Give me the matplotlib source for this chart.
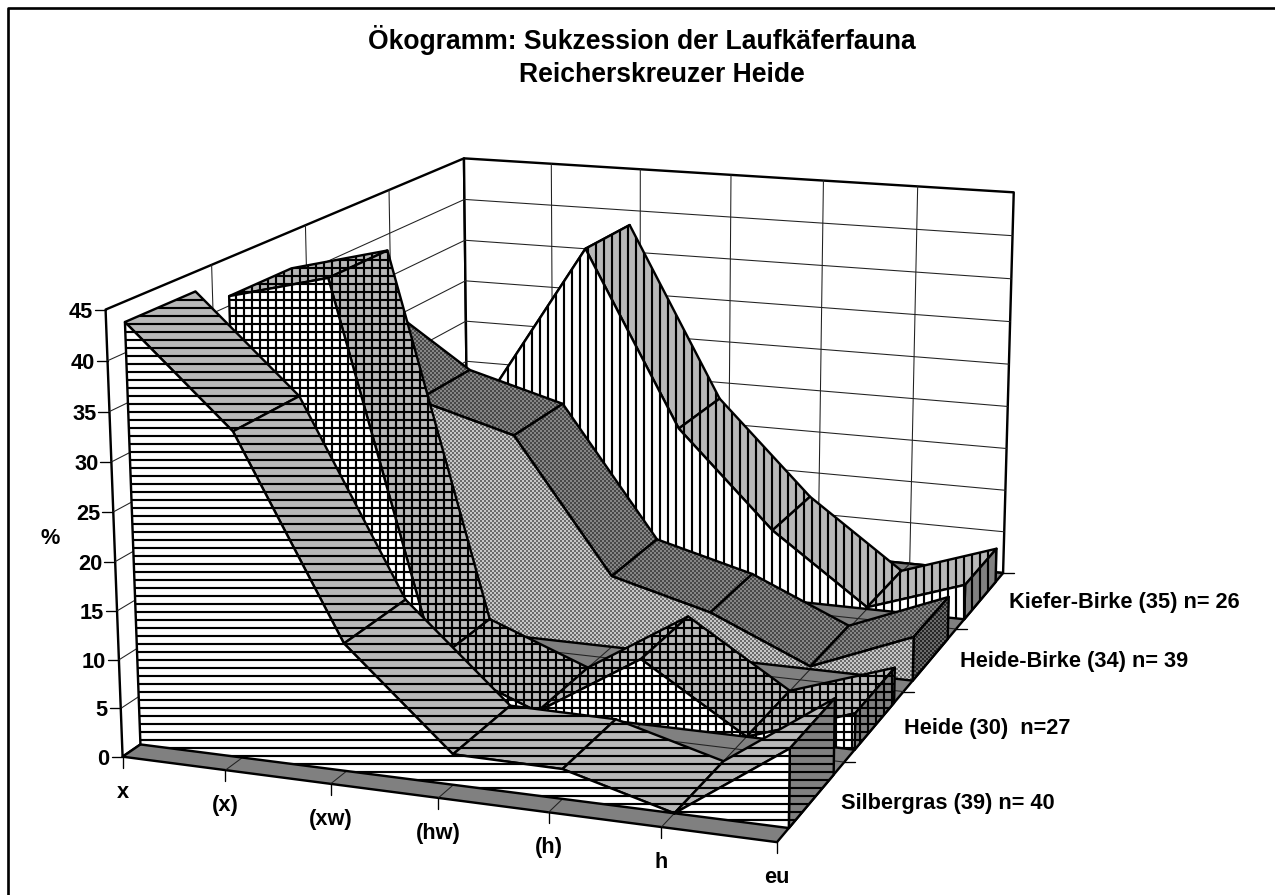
#!/usr/bin/env python3

import numpy as np
import matplotlib
matplotlib.use('Agg')
import matplotlib.pyplot as plt
from matplotlib.patches import Polygon

categories = ['x', '(x)', '(xw)', '(hw)', '(h)', 'h', 'eu']
series_names = ['Silbergras (39) n= 40', 'Heide (30)  n=27',
                'Heide-Birke (34) n= 39', 'Kiefer-Birke (35) n= 26']
silbergras = [43, 33.1, 13, 3.1, 3, 0, 7.8]
heide = [41, 43.7, 4.2, 0, 6.9, 0, 3.8]
heide_birke = [33, 25.7, 22.7, 8, 5.1, 0.3, 4.8]
kiefer_birke = [8, 22, 39, 19, 8.1, 0.2, 4]
z_ticks = list(range(0, 50, 5))

W, H = 1275, 895
GAP = 1 / 6
LABEL_SIZE = 16.3
TITLE_SIZE = 19.9

plt.rcParams['font.family'] = ['Liberation Sans', 'DejaVu Sans']
plt.rcParams['hatch.linewidth'] = 1.6

# view calibration: box corners and ticks (cat, depth, value) -> pixel
view_pts = [
    (0, 0, 0, 123, 755), (1, 0, 0, 225, 770), (2, 0, 0, 331, 783),
    (3, 0, 0, 438, 798), (4, 0, 0, 548, 813), (5, 0, 0, 661, 828),
    (6, 0, 0, 777, 843), (0, 4, 0, 468, 522), (6, 4, 0, 1003, 572),
    (6, 1, 0, 845, 762), (6, 2, 0, 904, 691), (6, 3, 0, 956, 628),
    (0, 0, 45, 105, 310), (0, 1, 45, 212, 266), (0, 2, 45, 306, 225),
    (0, 3, 45, 389, 189), (0, 4, 45, 464, 157), (5, 4, 45, 917, 187),
    (6, 4, 45, 1014, 193),
]

def fit_view(pts):
    A, b = [], []
    for c, d, v, px, py in pts:
        A.append([c, d, v, 1, 0, 0, 0, 0, -px * c, -px * d, -px * v])
        A.append([0, 0, 0, 0, c, d, v, 1, -py * c, -py * d, -py * v])
        b += [px, py]
    p = np.linalg.lstsq(np.array(A, float), np.array(b, float), rcond=None)[0]
    return np.append(p, 1).reshape(3, 4)

P = fit_view(view_pts)

def proj(c, d, v):
    u = P @ np.array([c, d, v, 1.0])
    return u[0] / u[2], u[1] / u[2]

fig = plt.figure(figsize=(W / 96, H / 96))
ax = fig.add_axes([0, 0, 1, 1])
ax.set_axis_off()
order = [10]

def next_z():
    order[0] += 1
    return order[0]

def line(p, q, lw=0.8, color='#222222'):
    ax.plot([p[0], q[0]], [p[1], q[1]], color=color, lw=lw, zorder=next_z(),
            solid_capstyle='round')

def face(pts, color, hatch=None):
    ax.add_patch(Polygon(pts, closed=True, facecolor=color, edgecolor='black',
                         hatch=hatch, lw=1.8, joinstyle='round', zorder=next_z()))

yy, xx = np.indices((H, W))
checker = ((yy // 2 + xx // 2) % 2).astype(float)

def dither(pts, lo, hi):
    z = next_z()
    im = ax.imshow(lo + (hi - lo) * checker, cmap='gray', vmin=0, vmax=1,
                   extent=(0, W, H, 0), interpolation='nearest',
                   aspect='auto', zorder=z)
    patch = Polygon(pts, closed=True, facecolor='none', edgecolor='black',
                    lw=1.8, joinstyle='round', zorder=z + 0.5)
    ax.add_patch(patch)
    im.set_clip_path(patch)

# walls
face([proj(0, 0, 0), proj(0, 0, 45), proj(0, 4, 45), proj(0, 4, 0)], 'white')
face([proj(0, 4, 0), proj(0, 4, 45), proj(6, 4, 45), proj(6, 4, 0)], 'white')
for v in z_ticks[1:-1]:
    line(proj(0, 0, v), proj(0, 4, v))
    line(proj(0, 4, v), proj(6, 4, v))
for d in range(1, 4):
    line(proj(0, d, 0), proj(0, d, 45))
for c in range(1, 6):
    line(proj(c, 4, 0), proj(c, 4, 45))

# floor
face([proj(0, 0, 0), proj(6, 0, 0), proj(6, 4, 0), proj(0, 4, 0)], '#808080')
for c in range(1, 6):
    line(proj(c, 0, 0), proj(c, 4, 0))
for d in range(1, 4):
    line(proj(0, d, 0), proj(6, d, 0))

# areas, back to front
styles = [
    ('--', 'white', '#b8b8b8', '#808080'),
    ('++', 'white', '#b8b8b8', '#808080'),
    (None, (0.42, 0.78), (0.28, 0.52), (0.15, 0.42)),
    ('||', 'white', '#b8b8b8', '#808080'),
]
all_series = [silbergras, heide, heide_birke, kiefer_birke]

def draw(pts, col, hatch):
    if hatch is None:
        dither(pts, col[0], col[1])
    else:
        face(pts, col, hatch)

for i in range(3, -1, -1):
    vals = all_series[i]
    hatch, front_c, top_c, side_c = styles[i]
    d0, d1 = i + GAP, i + 1 - GAP
    for c in range(6):
        draw([proj(c, d0, vals[c]), proj(c + 1, d0, vals[c + 1]),
              proj(c + 1, d1, vals[c + 1]), proj(c, d1, vals[c])], top_c, hatch)
    draw([proj(6, d0, vals[6]), proj(6, d1, vals[6]),
          proj(6, d1, 0), proj(6, d0, 0)], side_c, hatch)
    pts = [proj(c, d0, vals[c]) for c in range(7)]
    draw(pts + [proj(6, d0, 0), proj(0, d0, 0)], front_c, hatch)

# ticks and labels
for v in z_ticks:
    x, y = proj(0, 0, v)
    line((x - 11, y), (x, y), lw=1.0, color='black')
    ax.text(x - 13, y, str(v), ha='right', va='center_baseline',
            fontsize=LABEL_SIZE, fontweight='bold')
for c, name in enumerate(categories):
    x, y = proj(c, 0, 0)
    line((x, y), (x, y + 11), lw=1.0, color='black')
    ax.text(x, y + 33, name, ha='center', va='center_baseline',
            fontsize=LABEL_SIZE, fontweight='bold')
for d in range(1, 5):
    x, y = proj(6, d, 0)
    line((x, y), (x + 11, y), lw=1.0, color='black')
for i, name in enumerate(series_names):
    x, y = proj(6, i + 0.5, 0)
    ax.text(x + 29, y, name, ha='left', va='center_baseline',
            fontsize=LABEL_SIZE, fontweight='bold')
ax.text(50, 536, '%', ha='center', va='center_baseline', fontsize=LABEL_SIZE,
        fontweight='bold')
ax.text(642, 49, 'Ökogramm: Sukzession der Laufkäferfauna', ha='center',
        va='baseline', fontsize=TITLE_SIZE, fontweight='bold')
ax.text(662, 82, 'Reicherskreuzer Heide', ha='center', va='baseline',
        fontsize=TITLE_SIZE, fontweight='bold')

# chart frame
ax.plot([8, 8, W], [H, 8, 8], color='black', lw=2, zorder=next_z())

ax.set_xlim(0, W)
ax.set_ylim(H, 0)
fig.savefig('out.png', dpi=96)
